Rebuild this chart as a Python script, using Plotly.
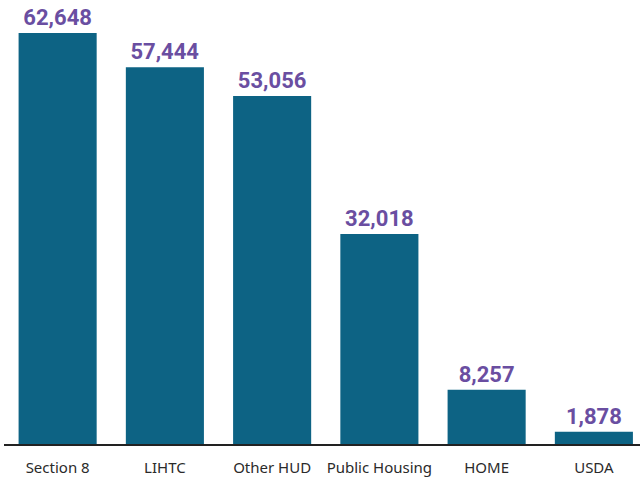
import plotly.graph_objects as go

categories = ["Section 8", "LIHTC", "Other HUD", "Public Housing", "HOME", "USDA"]
values = [62648, 57444, 53056, 32018, 8257, 1878]

bar_color = "#0d6384"
label_color = "#6a4ea1"

fig = go.Figure(go.Bar(
    x=categories, y=values,
    marker=dict(color=bar_color, line=dict(width=0)),
    text=[f"{v:,}" for v in values],
    textposition="outside",
    textfont=dict(family="Roboto", size=22, color=label_color, weight="bold"),
    cliponaxis=False,
))

fig.update_layout(
    width=640, height=481,
    margin=dict(l=4, r=0, t=0, b=37),
    paper_bgcolor="white", plot_bgcolor="white",
    bargap=0.272,
    showlegend=False,
    xaxis=dict(
        range=[-0.5, 5.43],
        showline=True, linecolor="#222222", linewidth=2,
        ticks="", showgrid=False,
        ticklabelstandoff=9,
        tickfont=dict(family="Noto Sans", size=15, color="#2a2a2a"),
    ),
    yaxis=dict(
        range=[0, 67678], visible=False, showgrid=False, zeroline=False,
    ),
)

fig.write_html("out.html")
